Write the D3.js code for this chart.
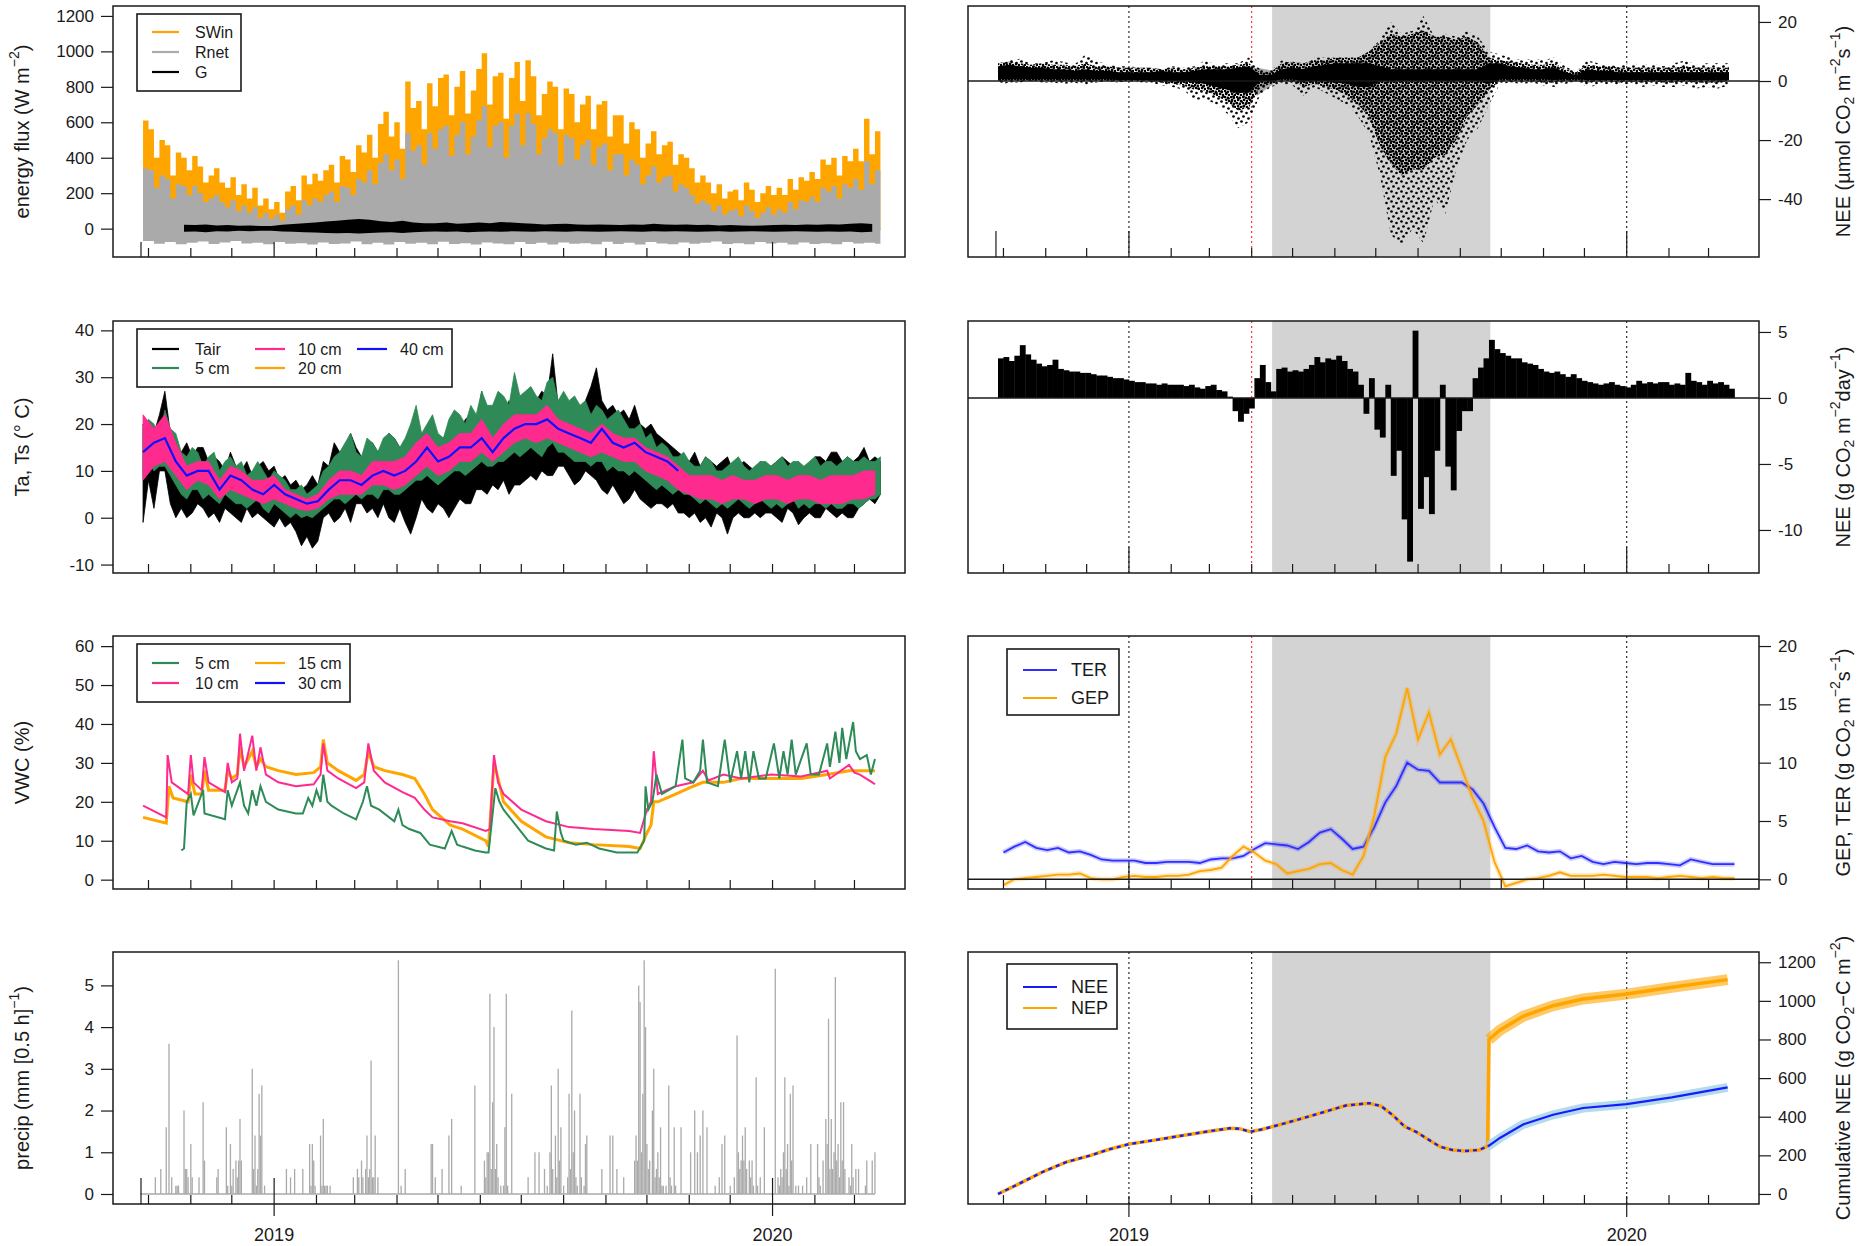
<!DOCTYPE html>
<html lang="en">
<head>
<meta charset="UTF-8">
<title>Flux overview 2018-2020</title>
<script src="https://d3js.org/d3.v7.min.js"></script>
<style>
  body { margin: 0; background: #fff; }
  text { font-family: "Liberation Sans", Arial, Helvetica, sans-serif; }
</style>
</head>
<body>
<svg id="chart" width="1862" height="1246"></svg>
<script>
// ---- data (day offsets count from 2018-09-27) ----
const startDay = Date.UTC(2018, 8, 27);

// energy flux, W m-2
const swinMax = [ // every 4 days
  610,560,400,500,470,300,430,400,330,410,
  350,260,300,340,260,230,290,190,250,170,
  230,130,170,110,150,90,210,240,160,300,
  250,310,270,330,360,260,410,390,320,470,
  430,530,400,590,660,520,600,450,830,680,
  720,560,820,690,850,870,640,800,890,650,
  780,900,990,700,860,880,620,850,940,720,
  950,860,640,760,830,800,560,790,760,600,
  700,750,560,700,720,520,640,640,480,600,
  560,400,480,550,420,470,490,360,420,400,
  340,260,300,260,200,250,170,210,220,160,
  260,220,150,200,240,190,230,190,280,220,
  290,270,320,280,390,360,400,300,410,380,
  450,380,620,420,550,480];
const rnetMax = [ // every 4 days
  340,330,230,300,280,170,250,240,190,240,
  200,150,170,190,150,120,160,100,130,90,
  120,60,90,55,80,45,110,130,80,160,
  130,170,150,190,210,150,240,230,190,280,
  260,330,250,370,420,330,390,280,540,440,
  470,360,540,450,560,580,410,530,600,420,
  520,610,690,460,580,600,400,580,650,470,
  650,590,420,510,560,540,360,530,510,390,
  470,500,360,460,480,330,420,420,300,390,
  360,250,300,350,260,290,300,210,250,230,
  190,140,160,140,100,130,80,100,110,70,
  130,100,60,90,120,80,110,90,150,110,
  160,150,180,150,230,210,240,170,250,230,
  280,220,380,250,330,300];
const rnetMin = [ // every 8 days
  -70,-85,-75,-88,-80,-72,-86,-78,-70,-84, -80,-88,-76,-85,-82,-90,-78,-86,-84,-72,
  -88,-80,-90,-76,-85,-80,-88,-74,-86,-82, -90,-78,-84,-88,-76,-86,-80,-90,-78,-85,
  -82,-88,-74,-86,-80,-90,-76,-84,-88,-78, -85,-80,-72,-86,-82,-88,-76,-84,-80,-90,
  -78,-86,-82,-88,-76,-84,-80,-85];
const gMax = [ // every 8 days from day 30
  22,20,24,18,20,16,18,15,15,22, 26,30,35,40,45,50,55,50,42,38,
  45,35,30,30,35,28,30,35,30,38, 34,30,28,24,26,28,24,22,24,22,
  20,24,22,28,24,22,24,20,22,18, 20,18,16,18,20,22,20,24,22,25,
  24,28,30,26];
const gMin = [
  -18,-16,-20,-15,-16,-12,-15,-12,-12,-16, -18,-20,-22,-24,-26,-24,-28,-24,-22,-20,
  -24,-20,-18,-16,-18,-16,-20,-18,-16,-18, -15,-16,-18,-15,-16,-18,-15,-16,-18,-16,
  -15,-16,-18,-15,-16,-15,-16,-18,-16,-15, -18,-16,-15,-16,-18,-16,-15,-16,-18,-16,
  -18,-16,-20,-18];

// temperature, deg C
const tairMax = [ // every 4 days
  20,16,18,22,27,18,15,14,16,13,
  15,15,12,13,12,10,14,11,10,12,
  9,11,12,10,11,8,9,7,8,6,
  7,9,7,12,11,16,14,15,18,15,
  13,15,16,14,16,18,17,15,13,12,
  17,18,16,14,15,17,19,20,18,21,
  22,20,27,21,22,22,20,25,23,25,
  24,23,25,27,26,35,24,25,23,24,
  22,25,28,32,25,23,24,22,23,21,
  24,20,19,20,18,17,16,15,14,13,
  12,14,11,13,12,11,12,13,10,11,
  12,11,10,12,11,11,12,13,12,11,
  12,10,11,13,13,12,14,14,12,13,
  12,13,15,12,13,12];
const tairMin = [
  -1,8,2,10,10,3,0,2,0,1,
  3,2,0,1,-1,2,1,0,-1,2,
  0,1,0,-1,-2,0,-2,-1,-3,-6,
  -4,-6.5,-5,0,1,-1,0,2,-1,3,
  3,1,2,0,3,0,-1,2,-1,-3.5,
  0,4,2,1,3,2,0,2,4,3,
  3,6,6,5,7,6,8,5,7,7,
  8,9,8,10,9,9,11,11,9,7,
  8,10,9,8,6,5,7,5,3,4,
  6,4,3,2,3,3,2,3,1,1,
  0,1,-1,0,-2,1,0,-3.5,0,1,
  0,0,1,0,1,1,0,-1,2,1,
  -1.5,0,1,0,0,2,1,0,1,0,
  0,2,3,4,3,5];
const ts5Max = [ // every 4 days
  19,21,20,17,23,19,18,14,13,15,
  14,11,13,14,10,12,13,11,12,9,
  10,12,10,8,10,9,8,6,6,7,
  5,6,7,10,11,13,14,16,18,14,
  13,17,16,14,17,18,17,15,17,20,
  24,18,20,22,18,17,21,23,22,20,
  24,22,27,24,24,27,26,24,31,26,
  27,28,26,25,29,30,25,27,25,26,
  24,25,22,24,23,21,22,23,21,19,
  19,20,17,18,15,16,15,13,13,14,
  12,11,11,13,12,10,10,11,12,13,
  11,10,11,12,12,11,12,13,11,12,
  12,11,12,13,11,12,12,11,12,13,
  12,12,13,12,12,13];
const ts5Min = [
  9,12,10,11,11,9,7,5,4,6,
  6,4,5,4,3,5,4,3,3,2,
  3,4,2,1,3,2,1,0,1,0,
  0.5,0,1,2,3,4,4,3,4,5,
  4,5,5,4,6,6,5,5,6,7,
  8,8,9,8,7,8,9,10,10,9,
  10,11,12,11,11,12,12,13,14,13,
  14,15,14,13,15,16,14,14,13,12,
  12,12,11,12,12,10,11,10,10,9,
  10,9,8,7,6,7,6,5,6,5,
  5,4,3,4,3,2,3,2,3,4,
  3,2,3,4,3,2,3,2,3,4,
  2,3,2,3,3,2,3,2,2,3,
  3,2,3,4,4,5];
const ts10Max = [ // every 8 days
  22,19,22,16,11,12,12,8,11,10, 8,8,9,6,5,4,5,8,10,10,
  9,12,12,12,13,16,18,15,16,18, 18,21,17,20,22,22,22,24,21,20,
  19,18,20,18,17,17,15,14,13,11, 9,9,9,8,9,8,8,9,9,8,
  9,9,8,9,9,9,10,10];
const ts10Min = [
  8,11,12,9,6,8,7,4,6,5, 4,3,4,3,2,1.5,2,4,5,5,
  5,7,7,6,7,9,11,9,10,12, 12,14,12,14,16,17,16,17,16,15,
  14,13,14,13,12,12,10,9,8,6, 5,4,4,3,4,4,3,4,4,3,
  4,4,3,3,3,4,4,5];
const ts40 = [
  14,16,17,12,9,10,10,6,9,8, 6,5,7,5,4,3,3.5,6,8,8,
  7,9,10,9,10,12,15,12,13,15, 15,17,14,17,19,20,20,21,19,18,
  17,16,19,16,15,16,14,13,12,10];

// volumetric water content, % : [day, value]
const vwc10 = [[0,19],[17,16],[18,32],[21,25],[33,22],[35,32],[37,25],[43,23],[45,31.5],[48,25],[60,22.5],[62,30],[65,25],[69,26],[71,37.5],[74,28],[80,37],[83,28],[86,34],[90,27],[99,25],[112,24],[125,24.5],[130,27],[132,35],[135,28],[143,26],[156,23.5],[162,25],[165,35],[169,28],[177,25],[190,22.5],[199,21],[206,18],[212,16],[225,15],[234,14.5],[251,12.5],[254,13],[257,32],[260,25],[264,22],[277,18],[295,15],[312,13.5],[330,13],[356,12.5],[364,12],[369,18],[372,20],[374,33],[377,22],[390,24],[403,25],[410,28],[414,25.5],[425,27],[438,26],[460,27],[482,26.5],[501,28],[503,26],[517,29.5],[521,27.5],[525,27],[534,25],[536,24.5]];
const vwc15 = [[0,16],[17,14.5],[19,24],[22,21],[33,20],[35,27],[38,22],[43,22],[45,28],[48,23],[60,23],[62,28],[65,26],[69,27],[71,34],[74,29],[80,33],[83,29],[86,31],[90,29],[99,28],[112,27],[125,27.5],[130,29],[132,36],[135,30],[143,28],[156,25.5],[162,27],[165,33],[169,29],[177,28],[190,27],[199,26],[206,22],[212,18],[225,14],[234,13],[251,10],[253,8.5],[257,30],[260,26],[264,20],[277,15],[295,11],[312,9.5],[330,9],[356,8.5],[364,8],[369,12],[372,14],[374,20],[377,20],[390,22],[403,24],[410,25],[425,25],[438,26],[460,26],[482,26],[501,27],[517,28],[525,28],[536,28]];
const vwc5 = [[28,7.5],[30,8],[32,20],[35,22],[37,16.5],[44,23],[45,17],[60,15.5],[62,23],[65,19],[71,25],[74,19],[77,17],[80,23],[83,19],[86,24],[90,20],[99,18],[112,17],[117,17],[121,21],[124,19],[127,23],[130,20],[132,27],[135,20],[138,19],[147,17],[156,15.5],[161,20],[164,24],[167,19],[173,18],[184,15],[187,18],[190,14],[195,13],[203,12],[210,9],[221,8],[226,12.5],[230,9],[234,8.5],[243,7.5],[251,7],[253,7],[258,23.5],[261,20],[264,18],[273,14],[282,10],[295,8],[301,7.5],[303,17.5],[306,12],[308,10],[317,9],[325,9.5],[334,8],[347,7],[362,7],[367,10],[368,24],[370,18],[373,20],[376,27],[380,22],[390,24],[395,36],[397,26],[403,25],[408,28],[410,36],[413,25],[421,24],[426,36],[430,25],[435,33],[438,26],[441,33],[444,25],[447,33],[451,26],[456,26],[462,35],[466,26],[469,33],[472,27],[475,36],[478,27],[486,35],[489,27],[495,27],[501,35],[503,29],[507,38],[510,30],[512,39],[515,31],[520,40.5],[522,33],[525,31],[530,32],[533,27],[536,31]];

// precipitation, mm per half hour : [day, value]
const precip = [[9,0.4],[13,0.6],[17,1.6],[19,3.6],[21,0.4],[24,0.2],[25,0.2],[26,0.2],[30,2.0],[31,0.6],[32,0.6],[33,0.4],[35,1.2],[36,0.4],[41,0.4],[44,2.2],[45,0.8],[54,0.4],[55,0.6],[61,1.6],[62,0.2],[64,1.2],[65,0.2],[66,0.6],[68,0.8],[69,0.4],[70,0.8],[71,1.8],[72,0.8],[80,3.0],[81,0.6],[82,1.4],[83,0.2],[84,0.6],[85,2.4],[86,1.4],[87,2.6],[89,0.2],
  [105,0.6],[108,0.4],[111,0.6],[117,0.6],[122,1.2],[123,0.2],[124,1.2],[125,0.8],[126,0.2],[130,1.4],[131,0.2],[132,1.8],[133,0.2],[134,0.2],[135,0.2],[137,0.2],
  [154,0.4],[157,0.6],[158,0.4],[160,0.8],[161,0.4],[163,0.6],[164,1.4],[165,0.4],[166,0.6],[167,3.2],[168,0.4],[169,0.4],[170,1.4],[172,0.4],[187,5.6],[189,0.2],[192,0.6],
  [211,1.2],[212,1.2],[214,0.4],[219,0.6],[224,1.4],[226,1.8],[233,0.2],[243,2.6],[250,0.8],[251,0.4],[252,1.0],[253,1.0],[254,4.8],[255,0.6],[256,2.2],[257,4.0],[258,0.6],[259,1.2],[260,0.4],[262,0.2],[264,0.2],[265,1.6],[266,4.8],[267,0.2],[270,2.4],
  [282,0.4],[287,1.0],[290,1.0],[294,0.6],[296,0.2],[298,1.0],[299,2.6],[300,0.6],[302,1.4],[303,0.4],[304,3.0],[305,0.8],[306,1.6],[308,0.2],[311,0.4],[312,2.4],[313,0.6],[314,4.4],[315,1.0],[316,2.0],[317,0.4],[318,0.2],[320,2.4],[321,0.4],[323,0.2],[324,1.2],[325,1.4],
  [336,0.6],[342,1.4],[344,1.4],[347,0.6],[352,0.4],[360,0.8],[361,1.4],[362,0.8],[363,5.0],[364,4.6],[365,1.0],[366,2.4],[367,5.6],[368,4.0],[369,1.2],[370,0.6],[371,0.8],[373,2.0],[374,3.0],[375,0.4],[376,0.6],[377,1.0],[378,0.4],[379,1.6],[380,0.2],[381,0.2],[383,0.2],[385,2.6],[386,0.4],[387,0.2],[389,1.6],[390,0.2],[394,1.6],
  [401,1.0],[404,2.0],[406,1.0],[408,1.4],[410,2.0],[413,1.6],[419,0.2],[422,0.4],[424,1.2],[426,1.4],[430,0.2],[433,0.4],[435,3.8],[436,1.0],[437,0.6],[438,0.8],[439,1.4],[440,0.8],[441,1.6],[442,0.6],[444,0.8],[445,0.4],[446,0.8],[447,0.2],[449,2.8],[450,0.2],[452,0.4],[455,1.6],
  [463,5.4],[465,0.4],[466,0.2],[467,0.6],[468,0.4],[469,1.0],[470,2.8],[471,0.6],[472,1.2],[473,0.2],[474,2.4],[475,0.8],[476,2.6],[478,0.2],[480,0.2],[483,0.2],[486,0.4],[489,1.2],[494,1.2],[495,0.4],[496,0.2],[498,0.8],[500,1.8],[501,1.2],[502,4.2],[503,0.6],[504,1.8],[505,0.6],[506,1.0],[507,5.2],[508,0.8],[509,1.2],[510,0.4],[511,2.2],[512,0.8],[513,2.2],[514,0.6],[517,0.4],[518,0.2],[519,1.2],[520,0.4],[522,0.6],[524,0.6],[529,0.2],[530,0.8],[534,0.8],[536,1.0]];

// half-hourly NEE, umol CO2 m-2 s-1 (every 8 days): full range, dense middle, solid core
const neeMax = [6,7,7.5,6,6,7,6.5,5.5,9,7, 5.5,5,5,4.5,4.5,4,5,4.5,5,7,
  5.5,6,6,8,4,3.5,7,6,5,8, 8,8,7,8,10,14,20,16,17,22,
  15,16,15,17,15,10,9,8,7,7.5, 7,8,5,3,7,6,5,5.5,6,5.5, 6,5,6,7,5.5,6,6,6];
const neeMin = [-1.5,-0.5,-0.5,0,-0.5,-0.5,-1,-0.5,-1.5,-0.5, 0,-0.5,0,-0.5,-0.5,-1.5,-2,-3,-6.5,-6,
  -8,-11,-16,-14,-5,-2,-1,-1.5,-5,-2, -4,-6,-8,-12,-18,-32,-52,-56,-50,-55,
  -40,-45,-30,-20,-16,-8,-1,-0.5,-1,-0.5, -1.5,-2,-1,0,-2,-1.5,-1,-1.5,-1,-2, -1.5,-2,-2,-1.5,-2.5,-2,-2.5,-1.5];
const neeMidHi = [6,6.5,6,5.5,6,5.5,5.5,5,6,5, 5,4.5,4.5,4.5,4.5,4,4.5,4,4.5,5,
  5,5,5.5,6,3,3,6,6.5,6,7, 7,8,8,8,10,13,16,15,16,17,
  15,15,14,15,13,8,7,6.5,6,5.5, 5.5,6,4,3,5.5,5,5,4.5,4.5,4.5, 4.5,4.5,4.5,5,4.5,4.5,4.5,4.5];
const neeMidLo = [0,0,0,0,0,0,0,0,0,0, 0,0,0,0,0,-0.5,-1,-1.5,-3,-3.5,
  -5,-7,-10,-9,-2,-1,0,0,-2,-1, -2,-3,-5,-8,-12,-22,-28,-32,-30,-30,
  -26,-25,-20,-12,-8,-3,0,0,0,0, -0.5,-0.5,0,0,-0.5,0,0,-0.5,0,-0.5, 0,-0.5,-0.5,0,-0.5,-0.5,-0.5,0];
const neeCoreHi = [5,5.5,5,4.5,4.5,4,4,3.5,4,3.5, 3.5,3,3,3,3,3.5,3,3,3.5,4,
  4,4,4.5,5,2,2,4,4.5,4,5, 5.5,6,6,6,6,5,4,4,4,4,
  4,4,4,4,4,6,6,5,4.5,4, 4,4.5,3,2,4,3.5,3.5,3,3,3, 3,3,3,3,3,3,3,3];
const neeCoreLo = [0.5,0.5,0.5,0.5,0.5,0.5,0.5,0.5,0.5,0.5, 0.5,0.3,0.3,0.3,0.2,0,0,0,-0.5,-1,
  -2,-3,-4,-4,0,0,0.5,0.5,0,0, 0,-0.5,-1,-2,-2,0,0,0,0,0,
  0,0,0,0,0,-1,0.5,0.5,0.5,0.5, 0.5,0.3,0.5,0.5,0.3,0.3,0.3,0.3,0.3,0.3, 0.3,0.3,0.3,0.3,0.2,0.3,0.2,0.3];
const neeGapDays = [184,190,196,202];
const neeGapLo = [-2,-5,-3,-1];
const neeGapHi = [4,4.5,4,3.5];

// daily NEE, g CO2 m-2 day-1 (every 4 days)
const neeDaily = [
  3.0,3.1,2.8,3.2,4.0,3.3,2.9,2.6,2.4,2.5,
  2.9,2.2,2.1,2.0,2.0,1.9,1.9,1.8,1.7,1.7,
  1.6,1.5,1.5,1.4,1.3,1.2,1.2,1.1,1.1,1.0,
  1.1,1.0,1.0,1.0,0.9,1.0,0.8,0.7,0.9,1.0,
  0.6,0.5,0.1,-1.0,-1.8,-1.2,-0.8,1.5,2.5,1.2,
  0.5,2.2,2.3,2.0,2.1,2.0,2.2,2.5,3.1,2.7,
  3.0,2.9,3.2,2.8,2.2,2.0,1.0,-1.2,1.5,-2.4,
  -3.0,1.0,-5.9,-4.0,-9.2,-12.4,5.1,-8.4,-6.0,-8.8,
  -4.0,1.0,-5.2,-7.0,-2.5,-1.0,-1.0,1.5,2.3,3.0,
  4.4,3.7,3.4,3.2,3.0,3.0,2.7,2.6,2.5,2.2,
  2.0,1.9,2.0,1.8,1.6,1.8,1.5,1.3,1.2,1.1,
  1.0,1.1,1.2,1.0,0.9,0.8,1.0,1.3,1.1,1.2,
  1.1,1.2,1.2,1.0,1.1,1.0,1.9,1.3,1.2,1.0,
  1.3,1.1,1.2,1.0,0.7];

// TER and GEP (every 8 days from day 4)
const ter = [2.3,2.8,3.2,2.7,2.5,2.7,2.3,2.4,2.1,1.7, 1.6,1.6,1.6,1.4,1.4,1.5,1.5,1.5,1.4,1.7,
  1.8,1.8,2.0,2.6,3.1,3.0,2.9,2.6,3.2,4.0, 4.3,3.5,2.6,2.8,4.5,6.6,8.0,10.0,9.4,9.3,
  8.3,8.3,8.3,7.7,6.5,4.5,2.7,2.6,2.9,2.4, 2.3,2.4,1.8,2.0,1.5,1.3,1.5,1.4,1.3,1.4,
  1.4,1.3,1.2,1.7,1.5,1.3,1.3,1.3];
const gep = [-0.5,0.0,0.1,0.2,0.3,0.4,0.4,0.5,0.1,0.0, 0.0,0.2,0.3,0.2,0.2,0.3,0.3,0.4,0.7,0.8,
  1.0,2.0,2.8,2.3,1.6,1.3,0.5,0.7,0.9,1.3, 1.4,0.8,0.4,2.0,5.5,10.5,12.5,16.4,12.0,14.3,
  10.7,12.0,9.5,7.0,5.0,1.5,-0.6,-0.3,0.0,0.1, 0.3,0.6,0.3,0.3,0.3,0.4,0.3,0.2,0.2,0.2,
  0.1,0.2,0.3,0.2,0.1,0.2,0.1,0.1];

// cumulative NEE / NEP, g CO2-C m-2
const cumDays = [0,16,33,50,68,81,96,116,133,155,170,177,185,194,203,220,237,255,272,281,290,298,307,316,324,333,342,353,359];
const cumBoth = [0,55,115,165,200,230,258,280,300,325,340,338,322,335,352,385,420,458,470,455,405,350,320,280,245,228,222,228,248];
const cumAfterDays = [360,368,385,407,429,461,494,535];
const neeCumAfter = [250,290,360,410,445,465,500,552];
const nepCumAfter = [800,848,920,975,1010,1035,1070,1110];

// marker dates (day offsets)
const eventDay = 186;          // dotted red line
const shadeDays = [201, 361];  // grey period

// ---- helpers ----
const INK = "#1a1a1a";
const dayDate = d => new Date(startDay + d * 864e5);
const grid = (s, step, vals) => vals.map((v, i) => ({t: dayDate(s + i * step), v}));
const grid2 = (s, step, lo, hi) => lo.map((v, i) => ({t: dayDate(s + i * step), lo: v, hi: hi[i]}));
const pairs = arr => arr.map(([d, v]) => ({t: dayDate(d), v}));

const svg = d3.select("#chart");
const defs = svg.append("defs");
// dot textures used to suggest the half-hourly scatter cloud
function dotPattern(id, size, spots, r) {
  const pt = defs.append("pattern").attr("id", id).attr("width", size).attr("height", size)
    .attr("patternUnits", "userSpaceOnUse");
  spots.forEach(([cx, cy]) => pt.append("circle").attr("cx", cx * size).attr("cy", cy * size)
    .attr("r", r).attr("fill", "#000"));
}
const spots = [[0.15, 0.15], [0.65, 0.3], [0.35, 0.65], [0.85, 0.85]];
dotPattern("dotsSparse", 10, spots, 1.35);
dotPattern("dotsDense", 6, spots, 1.35);

const xDom = [new Date(Date.UTC(2018, 8, 5)), new Date(Date.UTC(2020, 3, 7))];
const xL = d3.scaleUtc().domain(xDom).range([113, 905]);
const xR = d3.scaleUtc().domain(xDom).range([968, 1759]);
const rows = [[6, 257], [321, 573], [636, 889], [952, 1204]];

function makePanel(x, r, yDom, key) {
  const [top, bot] = rows[r];
  const y = d3.scaleLinear().domain(yDom).range([bot, top]);
  const [x0, x1] = x.range();
  defs.append("clipPath").attr("id", "cp" + key).append("rect")
    .attr("x", x0).attr("y", top).attr("width", x1 - x0).attr("height", bot - top);
  const g = svg.append("g").attr("clip-path", `url(#cp${key})`);
  return {x, y, g, top, bot, x0, x1};
}

function title(cx, cy, parts) {
  const t = svg.append("text")
    .attr("transform", `translate(${cx},${cy}) rotate(-90)`)
    .attr("text-anchor", "middle").attr("dominant-baseline", "central")
    .style("font-size", "20px").attr("fill", INK);
  let shift = 0;
  parts.forEach(([s, k]) => {
    const target = k === "sup" ? -8 : k === "sub" ? 6 : 0;
    const ts = t.append("tspan").attr("dy", target - shift).text(s);
    if (k) ts.style("font-size", "14px");
    shift = target;
  });
}

function finishPanel(p, o) {
  const {x, y, top, bot, x0, x1} = p;
  const tk = svg.append("g").attr("stroke", INK).attr("stroke-width", 1.2);
  d3.utcMonth.range(new Date(Date.UTC(2018, 9, 1)), new Date(Date.UTC(2020, 2, 2))).forEach(m => {
    const yr = m.getUTCMonth() === 0;
    tk.append("line").attr("x1", x(m)).attr("x2", x(m))
      .attr("y1", bot + (yr ? (o.yearDown || 0) : 0)).attr("y2", bot - (yr ? (o.yearUp || 9) : 9));
  });
  if (o.startTick) {
    const sx = x(dayDate(-1.5));
    tk.append("line").attr("x1", sx).attr("x2", sx).attr("y1", bot).attr("y2", bot - o.startTick);
  }
  svg.append("rect").attr("x", x0).attr("y", top).attr("width", x1 - x0).attr("height", bot - top)
    .attr("fill", "none").attr("stroke", INK).attr("stroke-width", 1.5);
  const left = o.side === "left";
  const axis = (left ? d3.axisLeft(y) : d3.axisRight(y)).tickValues(o.ticks)
    .tickSize(12).tickPadding(7).tickFormat(d => String(d));
  const ag = svg.append("g").attr("transform", `translate(${left ? x0 : x1},0)`).call(axis);
  ag.select(".domain").remove();
  ag.selectAll("line").attr("stroke", INK).attr("stroke-width", 1.2);
  ag.selectAll("text").attr("fill", INK).style("font-size", "17px")
    .style("font-family", "'Liberation Sans', Arial, sans-serif");
  title(left ? 22 : 1843, (top + bot) / 2, o.title);
  if (o.yearLabels) {
    [2019, 2020].forEach(yv => {
      svg.append("text").attr("x", x(new Date(Date.UTC(yv, 0, 1)))).attr("y", 1241)
        .attr("text-anchor", "middle").style("font-size", "18px").attr("fill", INK).text(yv);
    });
  }
}

function legend(box, items, fs) {
  const g = svg.append("g");
  g.append("rect").attr("x", box[0]).attr("y", box[1]).attr("width", box[2]).attr("height", box[3])
    .attr("fill", "#fff").attr("stroke", INK).attr("stroke-width", 1.6);
  items.forEach(it => {
    g.append("line").attr("x1", it.lx).attr("x2", it.lx + it.lw).attr("y1", it.y).attr("y2", it.y)
      .attr("stroke", it.color).attr("stroke-width", 2.2);
    g.append("text").attr("x", it.tx).attr("y", it.y).attr("dominant-baseline", "central")
      .style("font-size", fs + "px").attr("fill", INK).text(it.label);
  });
}

function markers(p, redEvent) {
  p.g.append("rect").attr("x", p.x(dayDate(shadeDays[0]))).attr("y", p.top)
    .attr("width", p.x(dayDate(shadeDays[1])) - p.x(dayDate(shadeDays[0]))).attr("height", p.bot - p.top)
    .attr("fill", "#d3d3d3");
  const v = [new Date(Date.UTC(2019, 0, 1)), new Date(Date.UTC(2020, 0, 1))].map(t => [t, INK]);
  v.push([dayDate(eventDay), redEvent ? "#ff2020" : INK]);
  v.forEach(([t, c]) => p.g.append("line").attr("x1", p.x(t)).attr("x2", p.x(t))
    .attr("y1", p.top).attr("y2", p.bot).attr("stroke", c).attr("stroke-width", 1.1)
    .attr("stroke-dasharray", "2,3"));
}

function zeroLine(p) {
  svg.append("line").attr("x1", p.x0).attr("x2", p.x1).attr("y1", p.y(0)).attr("y2", p.y(0))
    .attr("stroke", INK).attr("stroke-width", 1.6);
}

const band = (p, key0, key1) => d3.area().x(d => p.x(d.t)).y0(d => p.y(d[key0])).y1(d => p.y(d[key1]));
const lineOf = p => d3.line().x(d => p.x(d.t)).y(d => p.y(d.v));

// ---- left 1: energy flux ----
{
  const p = makePanel(xL, 0, [-160, 1256], "L1");
  const up = d3.area().curve(d3.curveStepAfter).x(d => p.x(d.t)).y0(p.y(0) + 1).y1(d => p.y(d.v));
  const down = d3.area().curve(d3.curveStepAfter).x(d => p.x(d.t)).y0(p.y(0) - 1).y1(d => p.y(d.v));
  p.g.append("path").datum(grid(0, 4, swinMax)).attr("d", up).attr("fill", "#ffa500");
  p.g.append("path").datum(grid(0, 4, rnetMax)).attr("d", up).attr("fill", "#aaaaaa");
  p.g.append("path").datum(grid(0, 8, rnetMin).concat([{t: dayDate(540), v: -85}])).attr("d", down).attr("fill", "#aaaaaa");
  p.g.append("path").datum(grid2(30, 8, gMin, gMax)).attr("d", band(p, "lo", "hi")).attr("fill", "#000");
  finishPanel(p, {side: "left", ticks: d3.range(0, 1201, 200), yearUp: 15, startTick: 15,
    title: [["energy flux  (W m"], ["−2", "sup"], [")"]]});
  legend([137, 14, 104, 77], [
    {label: "SWin", color: "#ffa500", lx: 152, lw: 27, tx: 195, y: 32},
    {label: "Rnet", color: "#aaaaaa", lx: 152, lw: 27, tx: 195, y: 52},
    {label: "G", color: "#000", lx: 152, lw: 27, tx: 195, y: 72}], 16);
}

// ---- left 2: temperatures ----
{
  const p = makePanel(xL, 1, [-11.8, 42.0], "L2");
  const ab = band(p, "lo", "hi");
  p.g.append("path").datum(grid2(0, 4, tairMin, tairMax)).attr("d", ab).attr("fill", "#000")
    .attr("stroke", "#000").attr("stroke-width", 0.8);
  p.g.append("path").datum(grid2(0, 4, ts5Min, ts5Max)).attr("d", ab).attr("fill", "#2e8b57")
    .attr("stroke", "#2e8b57").attr("stroke-width", 0.8);
  p.g.append("path").datum(grid2(0, 8, ts10Min, ts10Max)).attr("d", ab).attr("fill", "#ff2a8e")
    .attr("stroke", "#ff2a8e").attr("stroke-width", 0.8);
  p.g.append("path").datum(grid(0, 8, ts40)).attr("d", lineOf(p)).attr("fill", "none")
    .attr("stroke", "#1010ff").attr("stroke-width", 2.2);
  finishPanel(p, {side: "left", ticks: d3.range(-10, 41, 10), title: [["Ta, Ts (° C)"]]});
  legend([137, 329, 315, 58], [
    {label: "Tair", color: "#000", lx: 152, lw: 27, tx: 195, y: 349},
    {label: "5 cm", color: "#2e8b57", lx: 152, lw: 27, tx: 195, y: 368},
    {label: "10 cm", color: "#ff2a8e", lx: 255, lw: 30, tx: 298, y: 349},
    {label: "20 cm", color: "#ffa500", lx: 255, lw: 30, tx: 298, y: 368},
    {label: "40 cm", color: "#1010ff", lx: 357, lw: 30, tx: 400, y: 349}], 16);
}

// ---- left 3: soil water ----
{
  const p = makePanel(xL, 2, [-2.4, 62.6], "L3");
  const ln = lineOf(p);
  p.g.append("path").datum(pairs(vwc15)).attr("d", ln).attr("fill", "none").attr("stroke", "#ffa500").attr("stroke-width", 3);
  p.g.append("path").datum(pairs(vwc10)).attr("d", ln).attr("fill", "none").attr("stroke", "#ff2a8e").attr("stroke-width", 2);
  p.g.append("path").datum(pairs(vwc5)).attr("d", ln).attr("fill", "none").attr("stroke", "#2e8b57").attr("stroke-width", 2);
  finishPanel(p, {side: "left", ticks: d3.range(0, 61, 10), title: [["VWC  (%)"]]});
  legend([137, 644, 213, 58], [
    {label: "5 cm", color: "#2e8b57", lx: 152, lw: 27, tx: 195, y: 663},
    {label: "10 cm", color: "#ff2a8e", lx: 152, lw: 27, tx: 195, y: 683},
    {label: "15 cm", color: "#ffa500", lx: 255, lw: 30, tx: 298, y: 663},
    {label: "30 cm", color: "#1010ff", lx: 255, lw: 30, tx: 298, y: 683}], 16);
}

// ---- left 4: precipitation ----
{
  const p = makePanel(xL, 3, [-0.24, 5.8], "L4");
  p.g.append("line").attr("x1", p.x(dayDate(-2))).attr("x2", p.x(dayDate(536)))
    .attr("y1", p.y(0)).attr("y2", p.y(0)).attr("stroke", "#aaaaaa").attr("stroke-width", 1.3);
  p.g.selectAll("line.pr").data(pairs(precip)).join("line").attr("class", "pr")
    .attr("x1", d => p.x(d.t)).attr("x2", d => p.x(d.t))
    .attr("y1", p.y(0)).attr("y2", d => p.y(d.v)).attr("stroke", "#aaaaaa").attr("stroke-width", 1.3);
  finishPanel(p, {side: "left", ticks: d3.range(0, 6), yearUp: 26, yearDown: 12, startTick: 26,
    yearLabels: true, title: [["precip  (mm [0.5 h]"], ["−1", "sup"], [")"]]});
}

// ---- right 1: half-hourly NEE ----
{
  const p = makePanel(xR, 0, [-59.6, 25.4], "R1");
  markers(p, true);
  const gap = neeGapDays.map((d, i) => ({t: dayDate(d), lo: neeGapLo[i], hi: neeGapHi[i]}));
  p.g.append("path").datum(gap).attr("d", band(p, "lo", "hi")).attr("fill", "#a8a8a8");
  p.g.append("path").datum(grid2(0, 8, neeMin, neeMax)).attr("d", band(p, "lo", "hi")).attr("fill", "url(#dotsSparse)");
  p.g.append("path").datum(grid2(0, 8, neeMidLo, neeMidHi)).attr("d", band(p, "lo", "hi")).attr("fill", "url(#dotsDense)");
  p.g.append("path").datum(grid2(0, 8, neeCoreLo, neeCoreHi)).attr("d", band(p, "lo", "hi")).attr("fill", "#000");
  zeroLine(p);
  finishPanel(p, {side: "right", ticks: [-40, -20, 0, 20], yearUp: 26, startTick: 26,
    title: [["NEE (µmol CO"], ["2", "sub"], [" m"], ["−2", "sup"], ["s"], ["−1", "sup"], [")"]]});
}

// ---- right 2: daily NEE ----
{
  const p = makePanel(xR, 1, [-13.26, 5.83], "R2");
  markers(p, true);
  p.g.selectAll("rect.bar").data(grid(0, 4, neeDaily)).join("rect").attr("class", "bar")
    .attr("x", d => p.x(d.t))
    .attr("width", d => p.x(d3.utcDay.offset(d.t, 4)) - p.x(d.t) + 0.4)
    .attr("y", d => Math.min(p.y(0), p.y(d.v)))
    .attr("height", d => Math.abs(p.y(d.v) - p.y(0)))
    .attr("fill", "#000");
  zeroLine(p);
  finishPanel(p, {side: "right", ticks: [-10, -5, 0, 5], yearUp: 26,
    title: [["NEE (g CO"], ["2", "sub"], [" m"], ["−2", "sup"], ["day"], ["−1", "sup"], [")"]]});
}

// ---- right 3: TER and GEP ----
{
  const p = makePanel(xR, 2, [-0.83, 20.86], "R3");
  markers(p, true);
  const ln = lineOf(p);
  [[ter, "#2f2fff"], [gep, "#ffa500"]].forEach(([vals, c]) => {
    p.g.append("path").datum(grid(4, 8, vals)).attr("d", ln).attr("fill", "none")
      .attr("stroke", c).attr("stroke-opacity", 0.25).attr("stroke-width", 5);
    p.g.append("path").datum(grid(4, 8, vals)).attr("d", ln).attr("fill", "none")
      .attr("stroke", c).attr("stroke-width", 1.8);
  });
  zeroLine(p);
  finishPanel(p, {side: "right", ticks: [0, 5, 10, 15, 20], yearUp: 26,
    title: [["GEP, TER (g CO"], ["2", "sub"], [" m"], ["−2", "sup"], ["s"], ["−1", "sup"], [")"]]});
  legend([1007, 649, 112, 66], [
    {label: "TER", color: "#2f2fff", lx: 1023, lw: 34, tx: 1071, y: 670},
    {label: "GEP", color: "#ffa500", lx: 1023, lw: 34, tx: 1071, y: 698}], 18);
}

// ---- right 4: cumulative NEE / NEP ----
{
  const p = makePanel(xR, 3, [-52, 1253], "R4");
  markers(p, false);
  const ln = lineOf(p);
  const before = cumDays.map((d, i) => ({t: dayDate(d), v: cumBoth[i]}));
  const neeAfter = cumAfterDays.map((d, i) => ({t: dayDate(d), v: neeCumAfter[i]}));
  const nepAfter = cumAfterDays.map((d, i) => ({t: dayDate(d), v: nepCumAfter[i]}));
  p.g.append("path").datum(nepAfter).attr("d", ln).attr("fill", "none")
    .attr("stroke", "#ffa500").attr("stroke-opacity", 0.6).attr("stroke-width", 11);
  p.g.append("path").datum(before.concat(nepAfter)).attr("d", ln).attr("fill", "none")
    .attr("stroke", "#ffa500").attr("stroke-width", 3.5);
  p.g.append("path").datum([before[before.length - 1]].concat(neeAfter)).attr("d", ln).attr("fill", "none")
    .attr("stroke", "#9fd3e6").attr("stroke-opacity", 0.8).attr("stroke-width", 9);
  p.g.append("path").datum(before).attr("d", ln).attr("fill", "none")
    .attr("stroke", "#1a1aff").attr("stroke-width", 2.4).attr("stroke-dasharray", "4,4");
  p.g.append("path").datum([before[before.length - 1]].concat(neeAfter)).attr("d", ln).attr("fill", "none")
    .attr("stroke", "#1a1aff").attr("stroke-width", 2.2);
  finishPanel(p, {side: "right", ticks: d3.range(0, 1201, 200), yearUp: 8, yearDown: 13,
    yearLabels: true, title: [["Cumulative NEE (g CO"], ["2", "sub"], ["−C m"], ["−2", "sup"], [")"]]});
  legend([1007, 964, 110, 65], [
    {label: "NEE", color: "#1a1aff", lx: 1023, lw: 34, tx: 1071, y: 987},
    {label: "NEP", color: "#ffa500", lx: 1023, lw: 34, tx: 1071, y: 1008}], 18);
}
</script>
</body>
</html>
